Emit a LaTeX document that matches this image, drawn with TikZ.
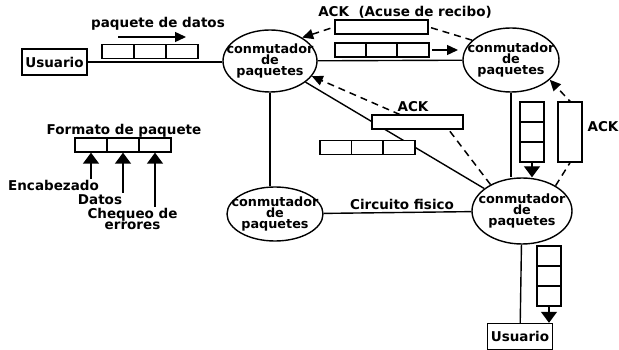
\documentclass[tikz,border=0pt]{standalone}
\usepackage{fontspec}
\setmainfont{DejaVu Sans}
\usetikzlibrary{arrows.meta,shapes.geometric,backgrounds}

\begin{document}
\begin{tikzpicture}[x=1pt, y=-1pt, line width=1.4pt, inner sep=1pt,
        every on background layer/.style={line width=1.4pt},
        font=\fontsize{13.5}{10}\selectfont\bfseries,
        sw/.style={draw, ellipse, inner sep=0pt},
        swt/.style={align=center, inner sep=0pt, font=\fontsize{12.8}{11.2}\selectfont\bfseries},
        b/.style={draw, fill=white, inner sep=0pt},
        cel/.style={b, minimum width=32pt, minimum height=14pt},
        vcel/.style={b, minimum width=24pt, minimum height=20pt},
        usr/.style={b, minimum width=65pt, minimum height=26pt},
        dl/.style={dash pattern=on 7pt off 5pt, line width=1.5pt},
        fs/.style={-{Triangle[width=10pt,length=11pt]}},
        fl/.style={-{Triangle[width=16pt,length=11pt]}}]
        \useasboundingbox (0,0) rectangle (619,350);
        % Conmutadores
        \node[sw, minimum width=94pt, minimum height=62pt,
              label={[swt]center:{conmutador\\de\\paquetes}}] (swA) at (270,61) {};
        \node[sw, minimum width=96pt, minimum height=64pt,
              label={[swt]center:{conmutador\\de\\paquetes}}] (swB) at (511,60) {};
        \node[sw, minimum width=96pt, minimum height=54pt,
              label={[swt]center:{conmutador\\de\\paquetes}}] (swC) at (275,214) {};
        \node[sw, minimum width=100pt, minimum height=66pt,
              label={[swt]center:{conmutador\\de\\paquetes}}] (swD) at (522,211) {};
        % Usuarios
        \node[usr] (userA) at (54.5,62) {Usuario};
        \node[usr] (userB) at (520,336.5) {Usuario};
        % Paquetes
        \foreach \i in {0,1,2} {\node[cel] (pa\i) at (118+32*\i,51.5) {};}
        \foreach \i in {0,1,2} {\node[cel] (pb\i) at (351+31*\i,50) {};}
        \foreach \i in {0,1,2} {\node[cel] (pm\i) at (336+31.5*\i,147.5) {};}
        \foreach \i in {0,1,2} {\node[vcel] (pv\i) at (532,112+20*\i) {};}
        \foreach \i in {0,1,2} {\node[vcel] (pu\i) at (549,256+20*\i) {};}
        \foreach \i in {0,1,2} {\node[cel] (f\i) at (91+32*\i,145) {};}
        % ACK
        \node[b, minimum width=93pt, minimum height=14pt] (ackT) at (381.5,27) {};
        \node[b, minimum width=91pt, minimum height=14pt] (ackM) at (417.5,122) {};
        \node[b, minimum width=24pt, minimum height=60pt] (ackV) at (570,132) {};
        % Textos
        \node (lpd) at (158,24) {paquete de datos};
        \node (lackT) at (405,12.5) {ACK\ \ (Acuse de recibo)};
        \node (lackM) at (413,107) {ACK};
        \node (lackV) at (603,127) {ACK};
        \node (lcf) at (402,204) {Circuito fisico};
        \node (lfmt) at (124,131) {Formato de paquete};
        \node (enc) at (53.5,185.5) {Encabezado};
        \node (dat) at (100,199.5) {Datos};
        \node[align=center, font=\fontsize{13.5}{11}\selectfont\bfseries] (chq) at (132.5,219) {Chequeo de\\errores};
        \coordinate (pd0) at (118,37);
        \coordinate (pd1) at (186,37);
        \coordinate (pb3) at (432,50);
        \coordinate (pb4) at (458,50);

        \begin{scope}[on background layer]
        % Circuitos fisicos
        \draw (userA.east) -- (userA.east -| swA.west);
        \draw (swA) -- (swB);
        \draw (swA.south) -- (swA.south |- swC.north);
        \draw (swC) -- (swD);
        \draw (swA) -- (swD);
        \draw (swB.south) -- (swB.south |- swD.north);
        \draw (swD) -- (userB);
        % Acuses de recibo
        \draw[dl, fs] (swB.153) -- (ackT.east) -- (ackT.west) -- (swA.36);
        \draw[dl, fs] (swD.140) -- ([xshift=-15pt]ackM.south east)
              -- ([xshift=28pt]ackM.north west) -- (swA.-20);
        \draw[dl, fs] (swD.37) -- (ackV.south) -- (ackV.north) -- (swB.333);
        \end{scope}
        % Flechas
        \draw[fs] (pd0) -- (pd1);
        \draw[fs] (pb3) -- (pb4);
        \draw[fl] (pv2.south) -- (pv2.south |- swD.north);
        \draw[fl] (pu2.south) -- (pu2.south |- userB.north);
        \draw[fl] (f0.south |- enc.north) -- (f0.south);
        \draw[fl] (f1.south |- dat.north) -- (f1.south);
        \draw[fl] (f2.south |- chq.north) -- (f2.south);
    \end{tikzpicture}
\end{document}
